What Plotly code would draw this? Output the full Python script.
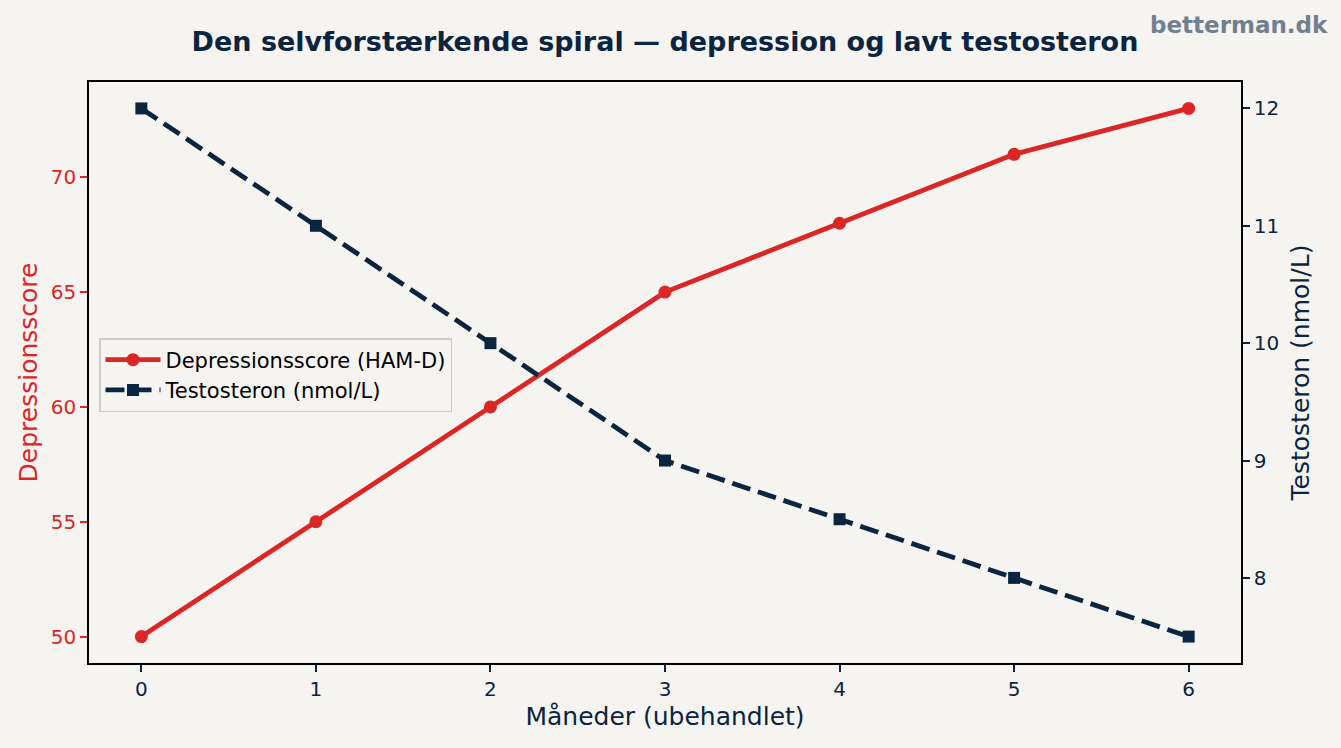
import plotly.graph_objects as go

months = [0, 1, 2, 3, 4, 5, 6]
depression = [50, 55, 60, 65, 68, 71, 73]
testosterone = [12, 11, 10, 9, 8.5, 8, 7.5]

RED = "#dc2626"
NAVY = "#0b2540"
BG = "#f5f4f0"
FONT = "DejaVu Sans"

fig = go.Figure()
fig.add_trace(go.Scatter(
    x=months, y=depression, name="Depressionsscore (HAM-D)",
    mode="lines+markers", line=dict(color=RED, width=4.8),
    marker=dict(symbol="circle", size=13, color=RED), yaxis="y"))
fig.add_trace(go.Scatter(
    x=months, y=testosterone, name="Testosteron (nmol/L)",
    mode="lines+markers", line=dict(color=NAVY, width=4.8, dash="19px,8px"),
    marker=dict(symbol="square", size=12, color=NAVY), yaxis="y2"))

fig.update_layout(
    width=1341, height=748,
    paper_bgcolor=BG, plot_bgcolor=BG,
    font=dict(family=FONT, color=NAVY, size=20),
    margin=dict(l=89, r=100, t=82, b=85),
    title=dict(text="<b>Den selvforstærkende spiral — depression og lavt testosteron</b>",
               x=(89 + 1241) / 2 / 1341, xanchor="center", y=1 - 42 / 748, yanchor="middle",
               font=dict(size=27, color=NAVY, family=FONT)),
    xaxis=dict(range=[-0.3, 6.3], tickvals=months, showgrid=False, zeroline=False,
               showline=True, linecolor="black", linewidth=1.7, mirror=True,
               ticks="outside", ticklen=7, tickwidth=1.7, tickcolor=NAVY,
               tickfont=dict(size=20, color=NAVY),
               title=dict(text="Måneder (ubehandlet)", font=dict(size=25, color=NAVY), standoff=8)),
    yaxis=dict(range=[48.85, 74.15], tickvals=[50, 55, 60, 65, 70], showgrid=False, zeroline=False,
               showline=True, linecolor="black", linewidth=1.7,
               ticks="outside", ticklen=7, tickwidth=1.7, tickcolor=RED,
               tickfont=dict(size=20, color=RED),
               title=dict(text="Depressionsscore", font=dict(size=25, color=RED), standoff=6)),
    yaxis2=dict(range=[7.275, 12.225], tickvals=[8, 9, 10, 11, 12], overlaying="y", side="right",
                showgrid=False, zeroline=False, showline=True, linecolor="black", linewidth=1.7,
                ticks="outside", ticklen=7, tickwidth=1.7, tickcolor=NAVY,
                tickfont=dict(size=20, color=NAVY),
                title=dict(text="Testosteron (nmol/L)", font=dict(size=25, color=NAVY), standoff=13)),
    legend=dict(x=10 / 1152, y=(663 - 338) / 581, xanchor="left", yanchor="top",
                bgcolor="rgba(245,244,240,0.8)", bordercolor="#cccccc", borderwidth=1.5,
                font=dict(size=21, color="black"), itemwidth=55, tracegroupgap=0),
    showlegend=True,
)
fig.add_annotation(text="<b>betterman.dk</b>", xref="paper", yref="paper",
                   x=(1330 - 89) / 1152, y=(663 - 25) / 581, xanchor="right", yanchor="middle",
                   showarrow=False, font=dict(size=23, color="#708090", family=FONT))

fig.write_html("out.html")
